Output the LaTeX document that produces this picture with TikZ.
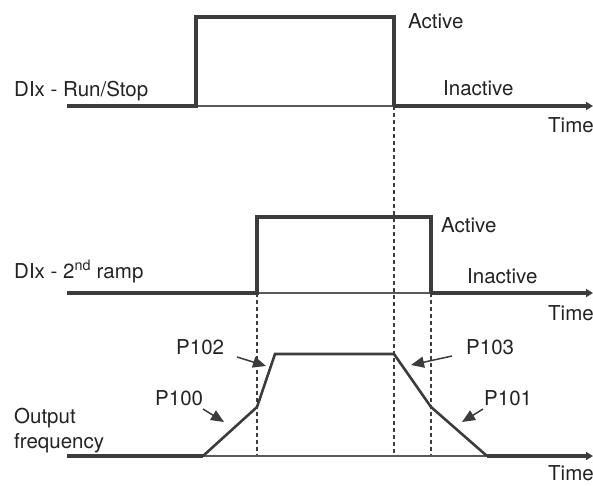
\documentclass[tikz,border=0pt]{standalone}
\usepackage{fontspec}
\setmainfont{TeX Gyre Heros}
\usetikzlibrary{arrows.meta}
\definecolor{linecol}{RGB}{60,60,60}
\definecolor{textcol}{RGB}{35,35,35}

\begin{document}
\begin{tikzpicture}[x=1pt, y=-1pt,
  every node/.style={font=\fontsize{20.5}{24}\selectfont, text=textcol, inner sep=0pt, anchor=base west},
  sigline/.style={draw=linecol, line width=3.2pt, line join=miter},
  baseln/.style={draw=linecol!85, line width=1.6pt},
  rampline/.style={draw=linecol, line width=2.6pt, line join=miter},
  guide/.style={draw=linecol, line width=1.4pt, dash pattern=on 4pt off 3pt},
  pointer/.style={draw=linecol, line width=1.5pt, -{Triangle[length=13pt,width=11pt]}},
  axisend/.style={-{Triangle[length=7pt,width=8pt]}}]
  \useasboundingbox (0,0) rectangle (593,485);

  % Run/Stop signal
  \coordinate (a0) at (67,106);
  \coordinate (a1) at (196,106);
  \coordinate (a2) at (196,17);
  \coordinate (a3) at (394,17);
  \coordinate (a4) at (394,106);
  \coordinate (a5) at (593,106);
  \draw[baseln] (a1) -- (a4);
  \draw[sigline] (a0) -- (a1) -- (a2) -- (a3) -- (a4);
  \draw[sigline, axisend] (a4) -- (a5);
  \node (runlbl) at (14,96) {DIx - Run/Stop};
  \node (act1) at (408,28) {Active};
  \node (inact1) at (443,95) {Inactive};
  \node (time1) at (548,132) {Time};

  % 2nd ramp signal
  \coordinate (b0) at (67,293);
  \coordinate (b1) at (257,293);
  \coordinate (b2) at (257,217);
  \coordinate (b3) at (431,217);
  \coordinate (b4) at (431,293);
  \coordinate (b5) at (593,293);
  \draw[baseln] (b1) -- (b4);
  \draw[sigline] (b0) -- (b1) -- (b2) -- (b3) -- (b4);
  \draw[sigline, axisend] (b4) -- (b5);
  \node (ramplbl) at (14,278) {DIx - 2\textsuperscript{nd} ramp};
  \node (act2) at (441,232) {Active};
  \node (inact2) at (467,283) {Inactive};
  \node (time2) at (548,320) {Time};

  % Output frequency
  \coordinate (f0) at (67,456);
  \coordinate (f1) at (203,456);
  \coordinate (f2) at (257,407);
  \coordinate (f3) at (275,354);
  \coordinate (f4) at (394,354);
  \coordinate (f5) at (431,407);
  \coordinate (f6) at (487,456);
  \coordinate (f7) at (593,456);
  \draw[guide] (a4) -- (a4 |- f0);
  \draw[guide] (b1) -- (b1 |- f0);
  \draw[guide] (b4) -- (b4 |- f0);
  \draw[baseln] (f1) -- (f6);
  \draw[sigline] (f0) -- (f1);
  \draw[sigline, axisend] (f6) -- (f7);
  \draw[rampline] (f1) -- (f2) -- (f3) -- (f4) -- (f5) -- (f6);
  \node (outlbl) at (14,423) {Output};
  \node (freqlbl) at (14,448) {frequency};
  \node (time3) at (548,480) {Time};

  % ramp parameters
  \node (p100) at (155,405) {P100};
  \node (p102) at (176,354) {P102};
  \node (p103) at (466,354) {P103};
  \node (p101) at (484,405) {P101};
  \coordinate (p100s) at (203,409);
  \coordinate (p100t) at (224,422);
  \coordinate (p102s) at (237,357);
  \coordinate (p102t) at (266,366);
  \coordinate (p103s) at (452,356);
  \coordinate (p103t) at (411,365);
  \coordinate (p101s) at (483,409);
  \coordinate (p101t) at (462,422);
  \draw[pointer] (p100s) -- (p100t);
  \draw[pointer] (p102s) -- (p102t);
  \draw[pointer] (p103s) -- (p103t);
  \draw[pointer] (p101s) -- (p101t);
\end{tikzpicture}
\end{document}
